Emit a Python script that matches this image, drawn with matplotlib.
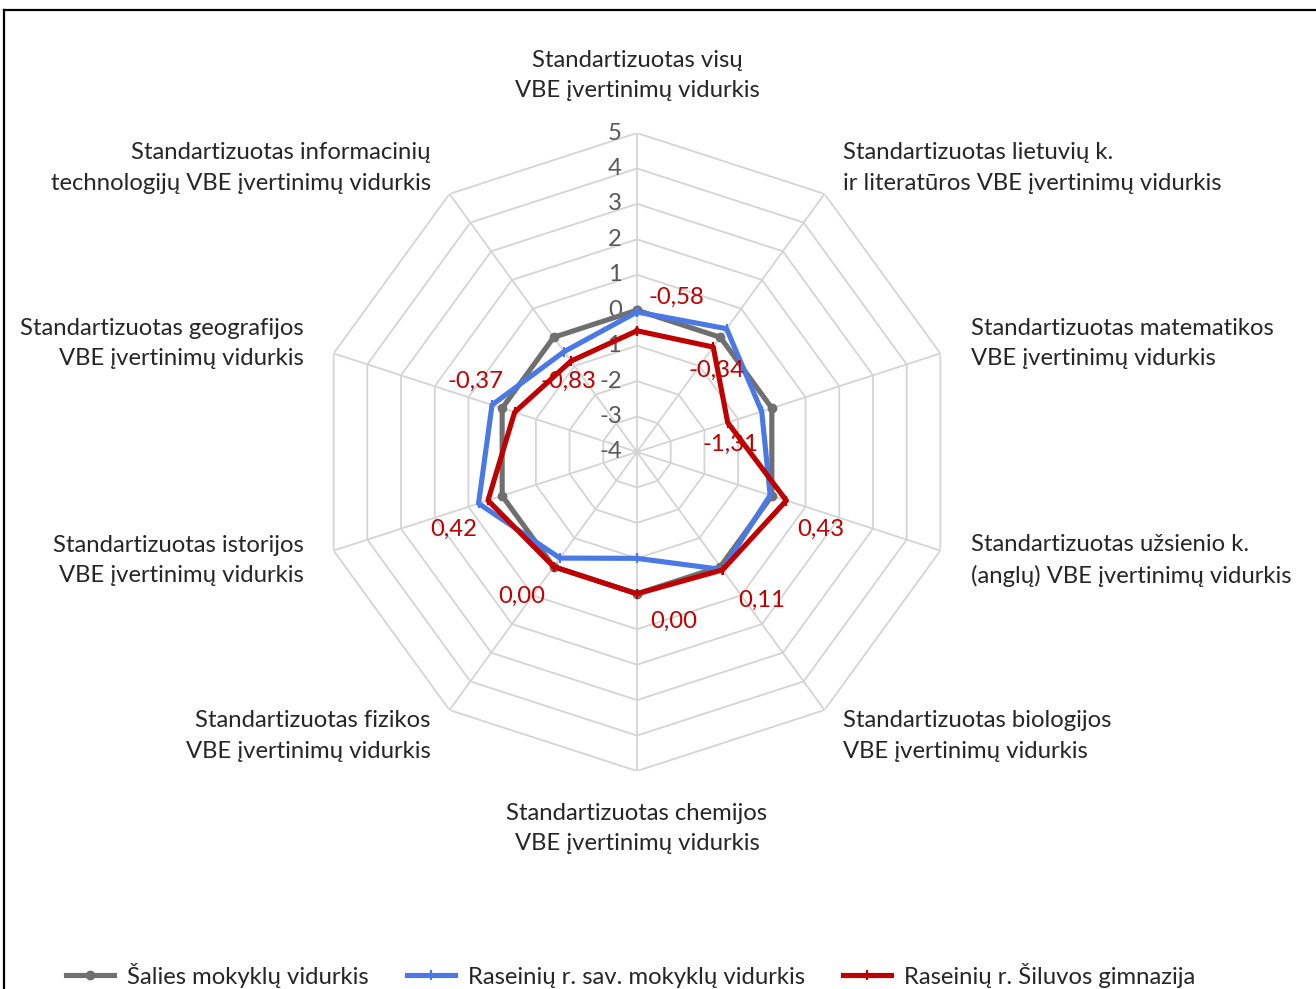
import numpy as np
import matplotlib
matplotlib.use('Agg')
import matplotlib.pyplot as plt
from matplotlib import transforms
from matplotlib.lines import Line2D

# ---- data ----
categories = [
    "Standartizuotas visų\nVBE įvertinimų vidurkis",
    "Standartizuotas lietuvių k.\nir literatūros VBE įvertinimų vidurkis",
    "Standartizuotas matematikos\nVBE įvertinimų vidurkis",
    "Standartizuotas užsienio k.\n(anglų) VBE įvertinimų vidurkis",
    "Standartizuotas biologijos\nVBE įvertinimų vidurkis",
    "Standartizuotas chemijos\nVBE įvertinimų vidurkis",
    "Standartizuotas fizikos\nVBE įvertinimų vidurkis",
    "Standartizuotas istorijos\nVBE įvertinimų vidurkis",
    "Standartizuotas geografijos\nVBE įvertinimų vidurkis",
    "Standartizuotas informacinių\ntechnologijų VBE įvertinimų vidurkis",
]
country = [0.00, 0.00, 0.00, 0.00, 0.00, 0.00, 0.00, 0.00, 0.00, 0.00]
district = [-0.05, 0.30, -0.30, -0.05, 0.10, -1.00, -0.30, 0.70, 0.30, -0.50]
school = [-0.58, -0.34, -1.31, 0.43, 0.11, 0.00, 0.00, 0.42, -0.37, -0.83]
r_ticks = [-4, -3, -2, -1, 0, 1, 2, 3, 4, 5]
series_names = ["Šalies mokyklų vidurkis",
                "Raseinių r. sav. mokyklų vidurkis",
                "Raseinių r. Šiluvos gimnazija"]

# ---- style ----
FONT = 'Lato'
FS = 17.2
plt.rcParams['font.family'] = [FONT, 'DejaVu Sans']
C_GRAY = '#6f6f6f'
C_BLUE = '#4a78e4'
C_RED = '#c00000'
C_GRID = '#d4d4d4'
C_TXT = '#262626'
LW = 3.7

W, H = 1316, 989
fig = plt.figure(figsize=(W / 100, H / 100), dpi=100)
cx, cy, R = 637, 452, 319
ax = fig.add_axes([(cx - R) / W, (H - cy - R) / H, 2 * R / W, 2 * R / H],
                  projection='polar')
ax.set_theta_zero_location('N')
ax.set_theta_direction(-1)
ax.set_ylim(r_ticks[0], r_ticks[-1])
ax.grid(False)
ax.spines['polar'].set_visible(False)
ax.set_xticks([])
ax.set_yticks([])
ax.patch.set_alpha(0)

n = len(categories)
theta = np.arange(n) * 2 * np.pi / n
closed_t = np.append(theta, theta[0])

# polygon grid
for v in r_ticks[1:]:
    ax.plot(closed_t, [v] * (n + 1), color=C_GRID, lw=1.3, zorder=1)
for t in theta:
    ax.plot([t, t], [r_ticks[0], r_ticks[-1]], color=C_GRID, lw=1.3, zorder=1)

# radial tick labels
tick_tr = transforms.offset_copy(ax.transData, fig=fig, x=-15, y=0, units='dots')
for v in r_ticks:
    ax.text(0, v, str(v), transform=tick_tr, ha='right', va='center',
            fontsize=FS, color='#595959', zorder=2)

# series
def closed(vals):
    return list(vals) + [vals[0]]

ax.plot(closed_t, closed(country), color=C_GRAY, lw=LW, marker='o', ms=6, zorder=3)
ax.plot(closed_t, closed(district), color=C_BLUE, lw=LW, marker='|', ms=7, mew=1.6, zorder=4)
ax.plot(closed_t, closed(school), color=C_RED, lw=LW, marker='|', ms=7, mew=1.6, zorder=5)

# data labels for school series
lbl_offsets = [(39, 33), (3, -23), (3, -22), (34, -29), (39, -30),
               (37, -28), (-32, -30), (-34, -29), (-39, 31), (-3, -20)]
for t, v, (dx, dy) in zip(theta, school, lbl_offsets):
    ax.annotate(f"{v:.2f}".replace('.', ','), (t, v), xytext=(dx, dy),
                textcoords='offset pixels', ha='center', va='center',
                fontsize=FS, color=C_RED, zorder=6, annotation_clip=False)

# category labels
RL = 5.9
for i, (t, lab) in enumerate(zip(theta, categories)):
    deg = np.degrees(t)
    if abs(deg) < 1:
        ha, va = 'center', 'bottom'
    elif abs(deg - 180) < 1:
        ha, va = 'center', 'top'
    elif deg < 180:
        ha, va = 'left', 'center'
    else:
        ha, va = 'right', 'center'
    ax.text(t, RL, lab, ha=ha, va=va, multialignment=ha, fontsize=FS,
            color=C_TXT, linespacing=1.55, clip_on=False)

# legend
handles = [
    Line2D([], [], color=C_GRAY, lw=LW, marker='o', ms=6),
    Line2D([], [], color=C_BLUE, lw=LW, marker='|', ms=7, mew=1.6),
    Line2D([], [], color=C_RED, lw=LW, marker='|', ms=7, mew=1.6),
]
fig.legend(handles, series_names, loc='center', bbox_to_anchor=(631 / W, 14 / H),
           ncol=3, frameon=False, fontsize=FS, handlelength=2.0,
           handletextpad=0.55, columnspacing=1.6, labelcolor=C_TXT)

# outer border (top & left visible)
fig.add_artist(Line2D([4 / W, 1.01], [1 - 10 / H, 1 - 10 / H],
                      transform=fig.transFigure, color='black', lw=1.6))
fig.add_artist(Line2D([4 / W, 4 / W], [-0.01, 1 - 10 / H],
                      transform=fig.transFigure, color='black', lw=1.6))

fig.savefig('out.png', dpi=100, facecolor='white')
